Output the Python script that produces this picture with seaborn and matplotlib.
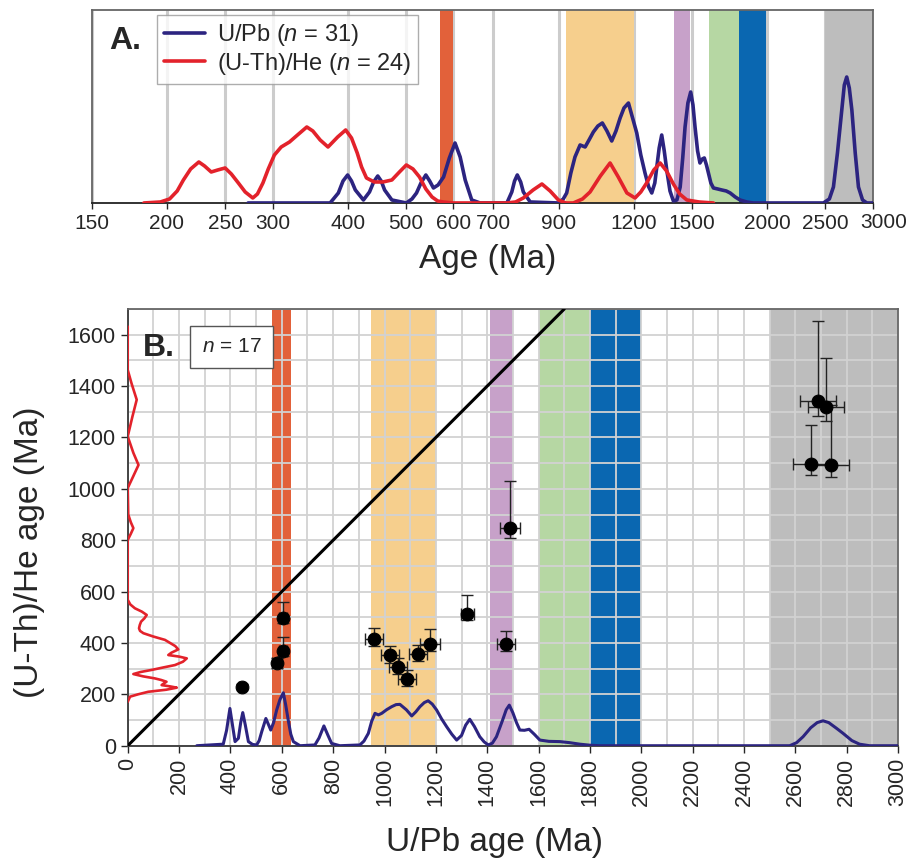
import numpy as np
import pandas as pd
import matplotlib
matplotlib.use('Agg')
import matplotlib.pyplot as plt
import seaborn as sns
from matplotlib.ticker import FixedLocator, NullLocator, MultipleLocator

# ---- panel A: probability curves on a log age axis (relative heights) ----
upb_a_age = [273, 374, 386, 393, 400, 406, 412, 425, 435, 442, 449, 455, 461, 474, 501, 512, 521, 530,
             540, 548, 556, 566, 578, 591, 604, 616, 628, 644, 665, 737, 751, 759, 767, 777, 785, 806,
             898, 915, 927, 942, 957, 976, 995, 1010, 1027, 1045, 1063, 1082, 1102, 1120, 1138, 1155,
             1175, 1190, 1213, 1232, 1252, 1270, 1285, 1300, 1310, 1322, 1335, 1348, 1361, 1378, 1396,
             1415, 1433, 1447, 1460, 1476, 1492, 1505, 1517, 1532, 1546, 1560, 1572, 1585, 1597, 1612,
             1628, 1655, 1681, 1710, 1736, 1770, 1803, 1850, 1897, 2483, 2540, 2580, 2620, 2664, 2690,
             2715, 2742, 2769, 2805, 2840, 2885, 2933, 3000]
upb_a_h = [0, 0, 10, 22, 28, 22, 13, 3, 11, 21, 27, 22, 13, 3, 0, 4, 10, 20,
           28, 22, 15, 18, 26, 45, 60, 46, 23, 3, 0, 0, 11, 22, 28, 21, 11, 1,
           0, 4, 10, 30, 46, 58, 56, 63, 71, 77, 80, 72, 62, 72, 85, 95,
           100, 88, 70, 48, 30, 16, 10, 20, 36, 55, 68, 52, 33, 12, 2,
           3, 16, 45, 76, 100, 111, 98, 76, 52, 40, 44, 45, 38, 30, 20,
           15, 14, 13, 12, 10, 6, 3, 1, 0, 0, 4, 16, 50, 93, 118,
           126, 115, 93, 50, 16, 3, 0, 0]

he_a_age = [183, 195, 202, 208, 213, 219, 226, 231, 237, 243, 250, 256, 263, 270, 278, 283, 289, 295,
            302, 310, 320, 330, 342, 350, 360, 371, 385, 397, 406, 415, 422, 430, 443, 458, 474, 488,
            501, 514, 527, 540, 553, 565, 577, 600, 737, 762, 785, 815, 843, 870, 898, 925, 951, 985,
            1014, 1055, 1095, 1130, 1168, 1205, 1232, 1260, 1295, 1327, 1360, 1396, 1430, 1470, 1540, 1628]
he_a_h = [0, 1, 4, 12, 23, 34, 41, 37, 31, 33, 35, 29, 20, 11, 5, 9, 20, 34,
          48, 56, 61, 68, 76, 72, 63, 56, 66, 73, 65, 50, 36, 25, 21, 21, 23, 31,
          38, 34, 26, 14, 6, 2, 1, 0, 0, 1, 5, 13, 19, 12, 3, 0, 0, 4,
          11, 27, 40, 26, 10, 5, 11, 20, 33, 40, 32, 19, 9, 3, 1, 0]

ticks_a = [150, 200, 250, 300, 400, 500, 600, 700, 900, 1200, 1500, 2000, 2500, 3000]

# ---- panel B: U/Pb vs (U-Th)/He ages ----
pt_upb = [444, 580, 606, 606, 959, 1022, 1053, 1086, 1131, 1177, 1322, 1475, 1488, 2688, 2721, 2662, 2740]
pt_he = [230, 323, 370, 499, 414, 352, 308, 259, 356, 395, 513, 395, 847, 1343, 1318, 1097, 1094]
pt_upb_err = [10, 20, 15, 15, 35, 35, 35, 35, 35, 40, 25, 35, 40, 70, 70, 70, 70]
pt_he_lo = [10, 20, 20, 20, 25, 30, 30, 25, 25, 25, 25, 25, 40, 59, 53, 45, 48]
pt_he_hi = [10, 20, 52, 60, 46, 35, 35, 35, 35, 60, 75, 50, 185, 309, 193, 152, 233]

upb_b_age = [269, 372, 385, 398, 408, 418, 431, 440, 448, 458, 470, 486, 502, 512, 522, 538, 547, 557,
             568, 580, 593, 606, 615, 625, 635, 645, 671, 729, 745, 764, 780, 794, 826, 904, 920, 937,
             950, 963, 976, 989, 1008, 1028, 1045, 1060, 1085, 1106, 1122, 1138, 1155, 1170, 1186, 1203,
             1222, 1242, 1262, 1281, 1300, 1316, 1332, 1350, 1371, 1388, 1404, 1420, 1436, 1460, 1474,
             1486, 1500, 1514, 1527, 1545, 1563, 1583, 1605, 1640, 1683, 1720, 1761, 1800, 1839, 2578,
             2605, 2630, 2660, 2685, 2708, 2730, 2760, 2786, 2820, 2850, 2889, 3000]
upb_b_h = [0, 6, 60, 145, 80, 16, 29, 90, 129, 80, 16, 5, 3, 20, 55, 106, 85, 61,
           90, 139, 180, 206, 160, 100, 45, 16, 0, 3, 30, 77, 40, 9, 0, 3, 18, 48,
           95, 126, 120, 126, 140, 152, 160, 161, 140, 116, 132, 152, 168, 175, 162, 139,
           105, 74, 45, 22, 40, 80, 103, 75, 35, 15, 3, 10, 35, 100, 140,
           158, 128, 90, 61, 60, 64, 45, 22, 17, 16, 12, 6, 2, 0, 0,
           12, 35, 70, 90, 97, 90, 68, 48, 20, 6, 0, 0]

he_b_age = [171, 191, 200, 210, 218, 226, 231, 236, 242, 249, 256, 262, 270, 279, 287, 295, 305, 314,
            327, 340, 347, 353, 362, 375, 388, 400, 412, 425, 438, 447, 457, 470, 483, 496, 509, 522,
            535, 550, 568, 801, 825, 847, 870, 900, 1003, 1050, 1093, 1140, 1204, 1280, 1347, 1410,
            1463, 1632]
he_b_h = [0, 9, 40, 80, 150, 191, 165, 132, 140, 151, 130, 106, 60, 22, 50, 93, 140, 184,
          215, 230, 200, 158, 170, 197, 185, 165, 145, 100, 61, 48, 44, 47, 52, 65, 74, 55,
          28, 10, 0, 0, 12, 22, 12, 2, 0, 22, 42, 22, 0, 18, 35, 15,
          0, 0]

# terrane age bands (start, end, colour)
band_colors = ['#e2613a', '#f6cf8d', '#c7a1c9', '#b6d7a3', '#0a67b1', '#bdbdbd']
bands_a = [(570, 600), (925, 1198), (1400, 1490), (1600, 1795), (1795, 1995), (2500, 3000)]
bands_b = [(562, 635), (948, 1200), (1410, 1500), (1600, 1800), (1800, 2000), (2500, 3000)]

blue = '#2c2480'
red = '#e3222b'

sns.set_style('white')
plt.rcParams['font.family'] = ['Liberation Sans', 'DejaVu Sans']
plt.rcParams['mathtext.fontset'] = 'custom'
plt.rcParams['mathtext.it'] = 'Liberation Sans:italic'
plt.rcParams['mathtext.rm'] = 'Liberation Sans'

fig = plt.figure(figsize=(9.11, 8.63), dpi=100)
ax_a = fig.add_axes([0.101, 0.7648, 0.857, 0.2236])
ax_b = fig.add_axes([0.1402, 0.1359, 0.8456, 0.506])

# ---------------- panel A ----------------
ax_a.set_xscale('log')
ax_a.set_xlim(150, 3000)
ax_a.set_ylim(0, 193)
ax_a.xaxis.set_major_locator(FixedLocator(ticks_a))
ax_a.xaxis.set_minor_locator(NullLocator())
# the last label (3000) is drawn separately, nudged right as in the original
ax_a.set_xticklabels([str(t) for t in ticks_a[:-1]] + [''], fontsize=15)
ax_a.annotate(str(ticks_a[-1]), xy=(ticks_a[-1], 0), xycoords=('data', 'axes fraction'),
              xytext=(8, -7.5), textcoords='offset points', ha='center', va='top', fontsize=15)
ax_a.set_yticks([])
ax_a.set_axisbelow(True)
ax_a.grid(axis='x', color='#cccccc', lw=2.2)
ax_a.tick_params(axis='x', length=4, width=1, direction='out', bottom=True, pad=4)
for (b0, b1), c in zip(bands_a, band_colors):
    ax_a.axvspan(b0, b1, color=c, lw=0, zorder=1)
sns.lineplot(x=upb_a_age, y=upb_a_h, ax=ax_a, color=blue, lw=2.6, zorder=3,
             label=r'U/Pb ($n$ = 31)')
sns.lineplot(x=he_a_age, y=he_a_h, ax=ax_a, color=red, lw=2.6, zorder=4,
             label=r'(U-Th)/He ($n$ = 24)')
leg = ax_a.legend(loc='upper left', bbox_to_anchor=(0.083, 0.975), borderaxespad=0,
                  fontsize=17, frameon=True, fancybox=False, handlelength=1.75,
                  borderpad=0.3, labelspacing=0.12, handletextpad=0.5)
leg.get_frame().set_edgecolor('#999999')
leg.get_frame().set_linewidth(1.0)
ax_a.text(0.022, 0.84, 'A.', transform=ax_a.transAxes, fontsize=23, fontweight='bold',
          va='center', ha='left')
for s in ['left', 'top', 'right']:
    ax_a.spines[s].set_color('#666666')
    ax_a.spines[s].set_linewidth(1.3)
ax_a.spines['bottom'].set_color('#222222')
ax_a.spines['bottom'].set_linewidth(1.3)
fig.text(0.5357, 0.699, 'Age (Ma)', fontsize=24, ha='center', va='center')

# ---------------- panel B ----------------
ax_b.set_xlim(0, 3000)
ax_b.set_ylim(0, 1700)
ax_b.xaxis.set_major_locator(MultipleLocator(200))
ax_b.xaxis.set_minor_locator(MultipleLocator(100))
ax_b.yaxis.set_major_locator(FixedLocator(list(range(0, 1601, 200))))
ax_b.yaxis.set_minor_locator(MultipleLocator(100))
ax_b.set_axisbelow('line')
ax_b.grid(which='both', color='#d2d2d2', lw=1.3)
ax_b.tick_params(axis='both', which='major', length=5, width=1, direction='out',
                 labelsize=15.5, left=True, bottom=True)
ax_b.tick_params(axis='both', which='minor', length=0)
ax_b.tick_params(axis='x', labelrotation=90)
for (b0, b1), c in zip(bands_b, band_colors):
    ax_b.axvspan(b0, b1, color=c, lw=0, zorder=1)

ax_b.plot([0, 1700], [0, 1700], color='black', lw=2.2, zorder=3)
sns.lineplot(x=upb_b_age, y=upb_b_h, ax=ax_b, color=blue, lw=2.2, zorder=4)
sns.lineplot(x=he_b_h, y=he_b_age, ax=ax_b, color=red, lw=1.9, zorder=4,
             sort=False, estimator=None)
ax_b.errorbar(pt_upb, pt_he, xerr=pt_upb_err, yerr=[pt_he_lo, pt_he_hi], fmt='none',
              ecolor='#222222', elinewidth=1.0, capsize=4, capthick=1.0, zorder=5)
sns.scatterplot(x=pt_upb, y=pt_he, ax=ax_b, color='black', s=85, edgecolor='black',
                zorder=6)

ax_b.text(0.02, 0.91, 'B.', transform=ax_b.transAxes, fontsize=23, fontweight='bold',
          va='center', ha='left')
ax_b.text(0.135, 0.914, r'$n$ = 17', transform=ax_b.transAxes, fontsize=15,
          va='center', ha='center', zorder=7,
          bbox=dict(boxstyle='square,pad=0.55', fc='white', ec='#555555', lw=1.0))
for s in ['left', 'bottom']:
    ax_b.spines[s].set_color('#444444')
    ax_b.spines[s].set_linewidth(1.4)
for s in ['top', 'right']:
    ax_b.spines[s].set_color('#666666')
    ax_b.spines[s].set_linewidth(1.3)
ax_b.set_xlabel('')
ax_b.set_ylabel('')
fig.text(0.543, 0.024, 'U/Pb age (Ma)', fontsize=24, ha='center', va='center')
fig.text(0.032, 0.36, '(U-Th)/He age (Ma)', fontsize=24, ha='center', va='center',
         rotation=90)

fig.savefig('out.png', dpi=100)
